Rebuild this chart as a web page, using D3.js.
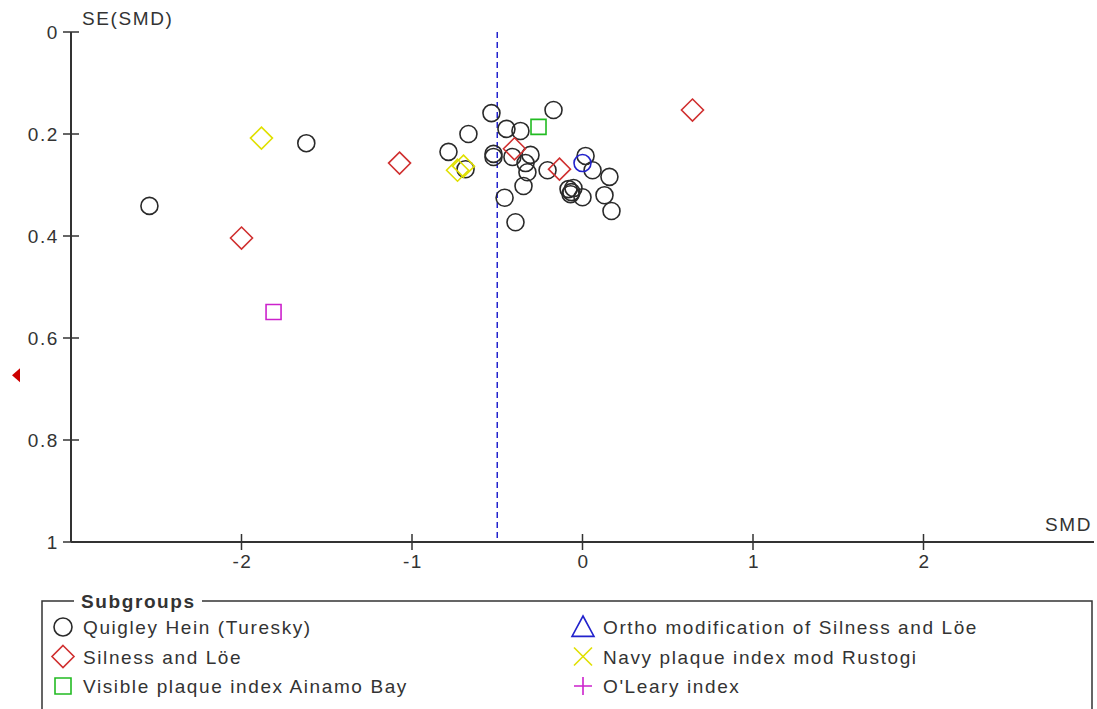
<!DOCTYPE html>
<html>
<head>
<meta charset="utf-8">
<script src="https://cdn.jsdelivr.net/npm/d3@7"></script>
<style>
  body { margin: 0; background: #fff; }
  text { font-family: "Liberation Sans", Arial, sans-serif; fill: #333; letter-spacing: 1.6px; }
</style>
</head>
<body>
<svg id="chart"></svg>
<script>
// funnel plot data: SMD (x) and SE(SMD) (y) per subgroup
const quigleySmd = [-2.54, -1.62, -0.534, -0.17, -0.669, -0.446, -0.364, -0.786, -0.522, -0.522,
  -0.686, -0.305, -0.334, -0.323, -0.205, -0.346, -0.457, -0.393, 0.018, 0.059,
  0.158, -0.082, -0.065, -0.053, -0.07, 0.0, 0.129, 0.17, -0.411];
const quigleySe = [0.341, 0.218, 0.159, 0.153, 0.2, 0.19, 0.194, 0.235, 0.239, 0.245,
  0.269, 0.241, 0.257, 0.275, 0.271, 0.302, 0.325, 0.373, 0.243, 0.271,
  0.284, 0.308, 0.314, 0.306, 0.318, 0.324, 0.32, 0.351, 0.245];
const silnessSmd = [0.645, -1.073, -2.0, -0.399, -0.135];
const silnessSe = [0.153, 0.257, 0.404, 0.229, 0.269];
const orthoSmd = [0.0];
const orthoSe = [0.257];
const navySmd = [-1.883, -0.733, -0.698];
const navySe = [0.208, 0.271, 0.263];
const visibleSmd = [-0.258];
const visibleSe = [0.186];
const olearySmd = [-1.812];
const olearySe = [0.549];

const pooledSmd = -0.5;      // dashed vertical line
const missingSe = 0.673;     // red marker on the left

const yTicks = [0, 0.2, 0.4, 0.6, 0.8, 1];
const xTicks = [-2, -1, 0, 1, 2];

const subgroups = [
  { name: "Quigley Hein (Turesky)", color: "#2a2a2a", shape: "circle", plot: "circle", x: quigleySmd, y: quigleySe },
  { name: "Silness and Löe", color: "#d03030", shape: "diamond", plot: "diamond", x: silnessSmd, y: silnessSe },
  { name: "Visible plaque index Ainamo Bay", color: "#22bb22", shape: "square", plot: "square", x: visibleSmd, y: visibleSe },
  { name: "Ortho modification of Silness and Löe", color: "#2222cc", shape: "triangle", plot: "circle", x: orthoSmd, y: orthoSe },
  { name: "Navy plaque index mod Rustogi", color: "#e0e000", shape: "cross", plot: "diamond", x: navySmd, y: navySe },
  { name: "O'Leary index", color: "#cc22cc", shape: "plus", plot: "square", x: olearySmd, y: olearySe }
];

const W = 1097, H = 709;
const svg = d3.select("#chart").attr("width", W).attr("height", H);

const x = d3.scaleLinear().domain([-3, 3]).range([71, 1094]);
const y = d3.scaleLinear().domain([0, 1]).range([32, 542]);

// axes lines
svg.append("line").attr("x1", x(-3)).attr("x2", x(-3)).attr("y1", y(0)).attr("y2", y(1))
  .attr("stroke", "#333").attr("stroke-width", 2);
svg.append("line").attr("x1", x(-3)).attr("x2", x(3)).attr("y1", y(1)).attr("y2", y(1))
  .attr("stroke", "#333").attr("stroke-width", 2);

// y ticks (cross the axis)
const yt = svg.append("g").selectAll("g").data(yTicks).enter().append("g");
yt.append("line").attr("x1", x(-3) - 8).attr("x2", x(-3) + 8)
  .attr("y1", d => y(d)).attr("y2", d => y(d)).attr("stroke", "#333").attr("stroke-width", 1.5);
yt.append("text").attr("x", x(-3) - 12).attr("y", d => y(d) + 7)
  .attr("text-anchor", "end").attr("font-size", 19).text(d => d3.format("~g")(d));

// x ticks
const xt = svg.append("g").selectAll("g").data(xTicks).enter().append("g");
xt.append("line").attr("x1", d => x(d)).attr("x2", d => x(d))
  .attr("y1", y(1) - 8).attr("y2", y(1) + 8).attr("stroke", "#333").attr("stroke-width", 1.5);
xt.append("text").attr("x", d => x(d) + 1).attr("y", y(1) + 26)
  .attr("text-anchor", "middle").attr("font-size", 19).text(d => d);

svg.append("text").attr("x", 82).attr("y", 25).attr("font-size", 19).text("SE(SMD)");
svg.append("text").attr("x", 1092).attr("y", 531).attr("text-anchor", "end").attr("font-size", 19).text("SMD");

// pooled estimate line
svg.append("line").attr("x1", x(pooledSmd)).attr("x2", x(pooledSmd))
  .attr("y1", y(0)).attr("y2", y(1))
  .attr("stroke", "#2222cc").attr("stroke-width", 1.5).attr("stroke-dasharray", "6,4");

// missing study marker
svg.append("path")
  .attr("d", `M${12},${y(missingSe)} l8,-7 l0,14 z`)
  .attr("fill", "#cc0000");

function shapePath(shape, s) {
  switch (shape) {
    case "circle": return `M${-s},0 a${s},${s} 0 1,0 ${2 * s},0 a${s},${s} 0 1,0 ${-2 * s},0`;
    case "diamond": return `M0,${-s} L${s},0 L0,${s} L${-s},0 Z`;
    case "square": return `M${-s},${-s} h${2 * s} v${2 * s} h${-2 * s} Z`;
    case "triangle": return `M0,${-s} L${s},${s * 0.85} L${-s},${s * 0.85} Z`;
    case "cross": return `M${-s},${-s} L${s},${s} M${s},${-s} L${-s},${s}`;
    case "plus": return `M${-s},0 L${s},0 M0,${-s} L0,${s}`;
  }
}
const plotSize = { circle: 8.5, diamond: 11, square: 7.5 };

// points
subgroups.forEach(g => {
  svg.append("g").selectAll("path").data(g.x.map((v, i) => [v, g.y[i]])).enter()
    .append("path")
    .attr("transform", d => `translate(${x(d[0])},${y(d[1])})`)
    .attr("d", shapePath(g.plot, plotSize[g.plot]))
    .attr("fill", "none").attr("stroke", g.color).attr("stroke-width", 1.6);
});

// legend
const lg = svg.append("g");
lg.append("path").attr("d", `M42,${H + 5} V601 H74 M202,601 H1092 V${H + 5}`)
  .attr("fill", "none").attr("stroke", "#333").attr("stroke-width", 1.5);
lg.append("text").attr("x", 81).attr("y", 608).attr("font-size", 19).attr("font-weight", "bold").text("Subgroups");

const legendSize = { circle: 9, diamond: 11, square: 8, triangle: 11, cross: 9, plus: 9 };
subgroups.forEach((g, i) => {
  const col = Math.floor(i / 3), row = i % 3;
  const cx = col === 0 ? 63 : 583;
  const cy = 627 + row * 29.5;
  lg.append("path").attr("transform", `translate(${cx},${cy})`)
    .attr("d", shapePath(g.shape, legendSize[g.shape]))
    .attr("fill", "none").attr("stroke", g.color).attr("stroke-width", 1.6);
  lg.append("text").attr("x", cx + 20).attr("y", cy + 7).attr("font-size", 19).text(g.name);
});
</script>
</body>
</html>
